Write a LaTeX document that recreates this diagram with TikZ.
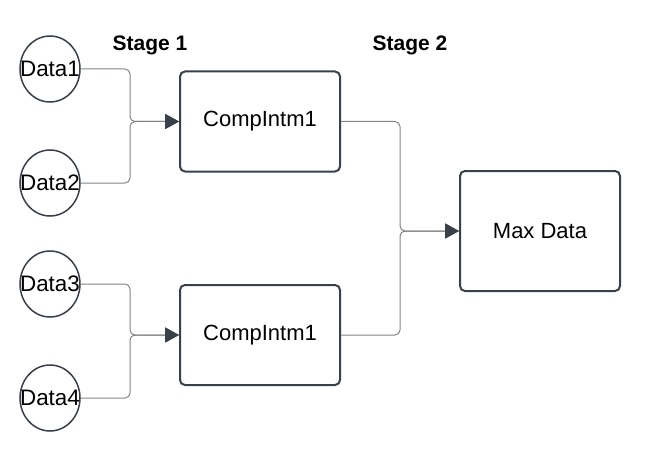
\documentclass[tikz,border=0pt]{standalone}
\usepackage{fontspec}
\setmainfont{Liberation Sans}
\usetikzlibrary{shapes.geometric,arrows.meta}

\definecolor{ink}{HTML}{394049}
\definecolor{wire}{HTML}{80848A}

\tikzstyle{data}=[draw=ink,line width=0.75pt,ellipse,minimum width=30pt,minimum height=33pt,inner sep=0pt,font=\fontsize{11.2}{13}\selectfont]
\tikzstyle{block}=[draw=ink,line width=1pt,rounded corners=2.5pt,minimum width=80pt,minimum height=50pt,font=\fontsize{11}{13}\selectfont]
\tikzstyle{stage}=[font=\bfseries\fontsize{10.5}{13}\selectfont]
\tikzstyle{link}=[draw=wire,line width=0.5pt,rounded corners=2.5pt,-{Triangle[length=7pt,width=7.5pt,color=ink]}]

\begin{document}
\begin{tikzpicture}[x=0.5pt,y=-0.5pt]

   \useasboundingbox (0,0) rectangle (653,465);

   % Inputs

   \node[data] (d1) at (50,69) {\makebox[0pt]{Data1}};
   \node[data] (d2) at (50,183) {\makebox[0pt]{Data2}};
   \node[data] (d3) at (50,284) {\makebox[0pt]{Data3}};
   \node[data] (d4) at (50,398) {\makebox[0pt]{Data4}};

   \node[stage] (s1) at (150,45) {Stage 1};
   \node[stage] (s2) at (410,45) {Stage 2};

   % Stage 1

   \node[block] (c1) at (260,121.5) {CompIntm1};
   \node[block] (c2) at (260,335) {CompIntm1};

   % Stage 2

   \node[block,minimum height=60pt] (mx) at (540,231) {Max Data};

   \coordinate (j1) at (130,121.5);
   \coordinate (j2) at (130,335);
   \coordinate (j3) at (400,231);

   \draw[link] (d1.east) -| (j1) -- (c1.west);
   \draw[link] (d2.east) -| (j1) -- (c1.west);
   \draw[link] (d3.east) -| (j2) -- (c2.west);
   \draw[link] (d4.east) -| (j2) -- (c2.west);

   \draw[link] (c1.east) -| (j3) -- (mx.west);
   \draw[link] (c2.east) -| (j3) -- (mx.west);

\end{tikzpicture}
\end{document}
